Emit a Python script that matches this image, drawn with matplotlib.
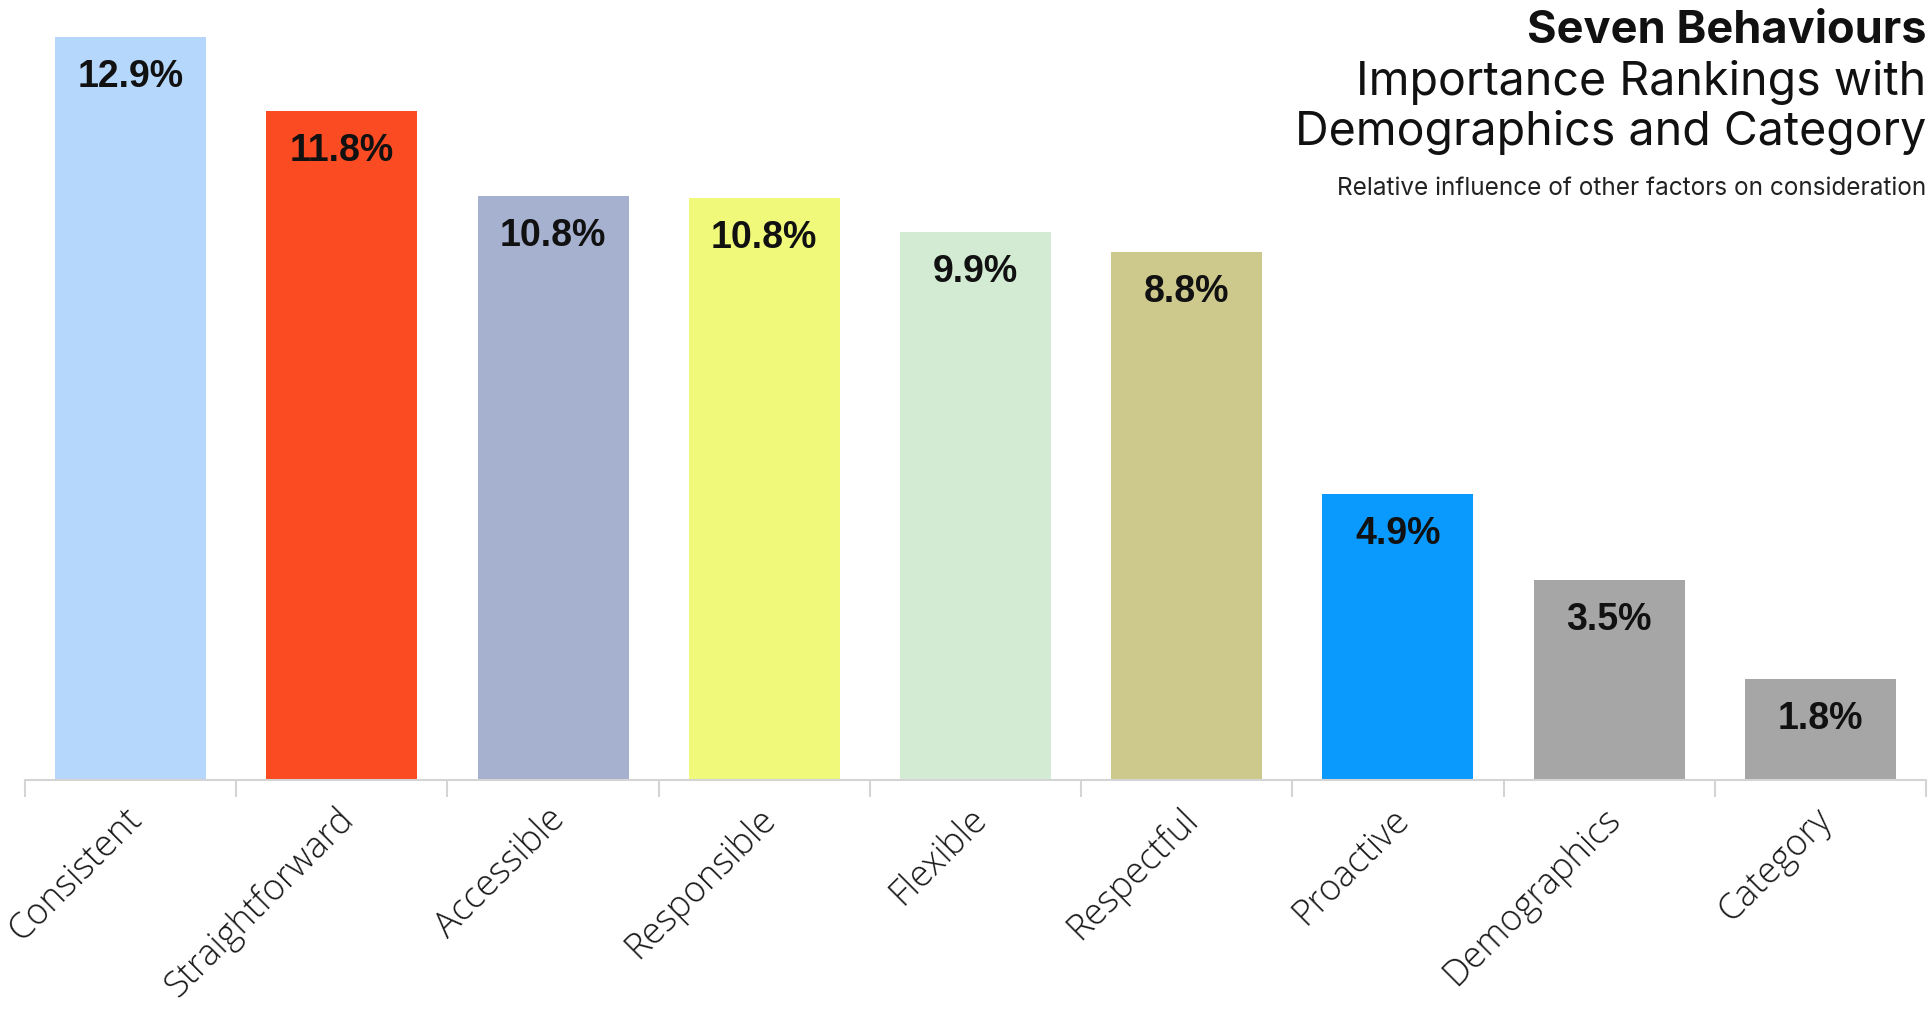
import matplotlib
matplotlib.use("Agg")
import matplotlib.pyplot as plt
import matplotlib.transforms as mtransforms
import numpy as np

# data
categories = ["Consistent", "Straightforward", "Accessible", "Responsible", "Flexible",
              "Respectful", "Proactive", "Demographics", "Category"]
# bar heights as drawn (the printed labels are rounded a bit differently)
heights = [12.9, 11.61, 10.14, 10.10, 9.51, 9.17, 4.97, 3.47, 1.75]
labels = ["12.9%", "11.8%", "10.8%", "10.8%", "9.9%", "8.8%", "4.9%", "3.5%", "1.8%"]
colors = ["#b5d7fb", "#fb4b23", "#a6b1cf", "#f0f97a", "#d3ebd3",
          "#cdc88c", "#0a99fd", "#a6a6a6", "#a6a6a6"]

fig = plt.figure(figsize=(19.33, 10.09), dpi=100)
ax = fig.add_axes([0.0129, 0.227, 0.9835, 0.773])

x = np.arange(len(categories))
bars = ax.bar(x, heights, width=0.715, color=colors)

for b, lab in zip(bars, labels):
    ax.annotate(lab, (b.get_x() + b.get_width() / 2, b.get_height()),
                xytext=(0, -29), textcoords="offset points",
                ha="center", va="center", fontsize=27, fontweight="bold",
                family="Liberation Sans", color="#111111")

ax.set_xlim(-0.5, len(categories) - 0.5)
ax.set_ylim(0, 13.54)

for s in ["top", "right", "left"]:
    ax.spines[s].set_visible(False)
ax.spines["bottom"].set_color("#d4d4d4")
ax.spines["bottom"].set_linewidth(1.5)
ax.set_yticks([])

ax.set_xticks(x)
ax.set_xticklabels(categories, rotation=45, ha="right", rotation_mode="anchor",
                   fontsize=26, family="Open Sans", fontweight="light", color="#1a1a1a")
ax.tick_params(axis="x", which="major", length=0, pad=15)
ax.set_xticks(np.arange(-0.5, len(categories), 1.0), minor=True)
ax.tick_params(axis="x", which="minor", length=12, width=1.5, color="#d4d4d4")
# nudge the rotated labels a little to the left
shift = mtransforms.ScaledTranslation(-0.07, 0, fig.dpi_scale_trans)
for t in ax.get_xticklabels():
    t.set_transform(t.get_transform() + shift)

# titles top right
fig.text(0.9964, 0.957, "Seven Behaviours", ha="right", va="baseline",
         fontsize=32.5, fontweight="bold", family="Inter", color="#111111")
fig.text(0.9964, 0.906, "Importance Rankings with", ha="right", va="baseline",
         fontsize=33.5, family="Inter", color="#111111")
fig.text(0.9964, 0.856, "Demographics and Category", ha="right", va="baseline",
         fontsize=33.5, family="Inter", color="#111111")
fig.text(0.9964, 0.807, "Relative influence of other factors on consideration", ha="right",
         va="baseline", fontsize=17.5, family="Inter", color="#222222")

plt.savefig("out.png", dpi=100)
